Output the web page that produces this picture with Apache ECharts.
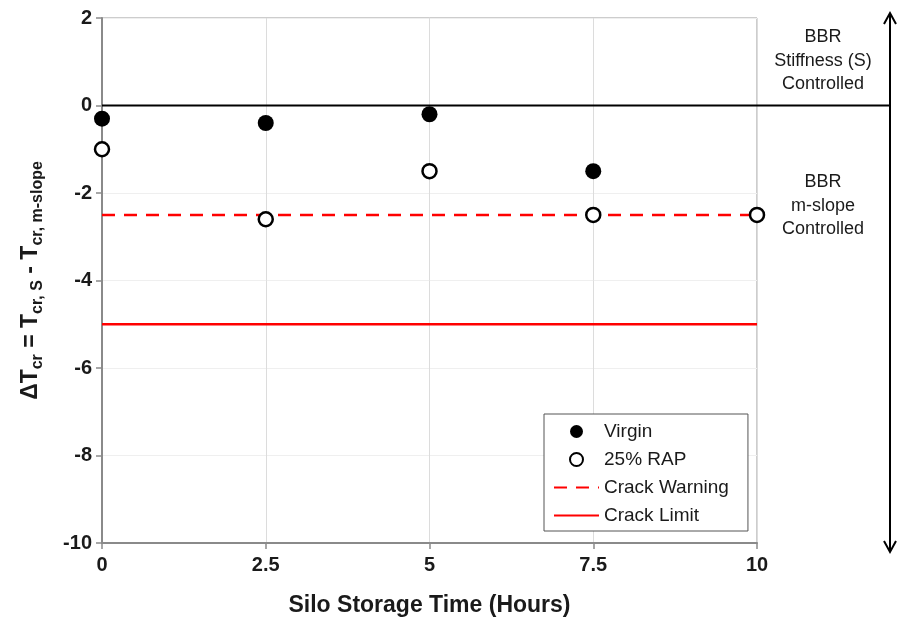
<!DOCTYPE html>
<html>
<head>
<meta charset="utf-8">
<script src="https://cdn.jsdelivr.net/npm/echarts@6/dist/echarts.min.js"></script>
<style>
  html, body { margin: 0; padding: 0; background: #fff; }
  #chart { width: 900px; height: 618px; }
</style>
</head>
<body>
<div id="chart"></div>
<script>
// Silo storage time (hours) and the ΔTcr results for each binder
const hours = [0, 2.5, 5, 7.5, 10];
const virgin = [-0.3, -0.4, -0.2, -1.5, null];
const rap25 = [-1.0, -2.6, -1.5, -2.5, -2.5];
const crackWarning = -2.5;
const crackLimit = -5;
const divideLine = 0;
const xTicks = { min: 0, max: 10, step: 2.5 };
const yTicks = { min: -10, max: 2, step: 2 };

const FONT = '"Liberation Sans", Arial, sans-serif';

const pairs = (ys) => hours.map((h, i) => [h, ys[i]]).filter(p => p[1] !== null);
const flat = (v) => [[xTicks.min, v], [xTicks.max, v]];

const chart = echarts.init(document.getElementById('chart'), null, { renderer: 'canvas' });

chart.setOption({
  animation: false,
  backgroundColor: '#ffffff',
  grid: {
    left: 102, top: 18, right: 143, bottom: 75,
    containLabel: false, outerBoundsMode: 'none',
    show: true, borderColor: '#9a9a9a', borderWidth: 1, backgroundColor: 'transparent'
  },
  xAxis: {
    type: 'value',
    min: xTicks.min, max: xTicks.max, interval: xTicks.step,
    name: 'Silo Storage Time (Hours)',
    nameLocation: 'middle',
    nameGap: 51,
    nameTextStyle: { fontFamily: FONT, fontWeight: 'bold', fontSize: 23, color: '#1a1a1a' },
    axisLine: { show: true, onZero: false, lineStyle: { color: '#8a8a8a', width: 2 } },
    axisTick: { show: true, inside: false, length: 6, lineStyle: { color: '#8a8a8a', width: 1.5 } },
    axisLabel: { fontFamily: FONT, fontWeight: 'bold', fontSize: 20, color: '#1a1a1a', margin: 12 },
    splitLine: { show: true, lineStyle: { color: '#dcdcdc', width: 1 } }
  },
  yAxis: {
    type: 'value',
    min: yTicks.min, max: yTicks.max, interval: yTicks.step,
    name: '{a|ΔT}{s|cr}{a| = T}{s|cr, S}{a| - T}{s|cr, m-slope}',
    nameLocation: 'middle',
    nameGap: 60,
    nameRotate: 90,
    nameTextStyle: {
      color: '#1a1a1a',
      rich: {
        a: { fontFamily: FONT, fontWeight: 'bold', fontSize: 23, lineHeight: 27, color: '#1a1a1a', verticalAlign: 'bottom' },
        s: { fontFamily: FONT, fontWeight: 'bold', fontSize: 16, lineHeight: 16, color: '#1a1a1a', verticalAlign: 'bottom', padding: [0, 0, -4, 0] }
      }
    },
    axisLine: { show: true, onZero: false, lineStyle: { color: '#8a8a8a', width: 2 } },
    axisTick: { show: true, inside: false, length: 6, lineStyle: { color: '#8a8a8a', width: 1.5 } },
    axisLabel: { fontFamily: FONT, fontWeight: 'bold', fontSize: 20, color: '#1a1a1a', margin: 10 },
    splitLine: { show: true, lineStyle: { color: '#efefef', width: 1 } }
  },
  legend: {
    left: 544, top: 414,
    orient: 'vertical',
    padding: [8, 19, 6, 9],
    itemWidth: 45, itemHeight: 13, itemGap: 9,
    borderColor: '#555', borderWidth: 1, backgroundColor: '#fff',
    textStyle: { fontFamily: FONT, fontSize: 19, color: '#1a1a1a' },
    data: [
      { name: 'Virgin', itemStyle: { color: '#000', opacity: 1 } },
      { name: '25% RAP' },
      { name: 'Crack Warning', itemStyle: { opacity: 0 } },
      { name: 'Crack Limit', itemStyle: { opacity: 0 } }
    ]
  },
  series: [
    {
      name: 'divide', type: 'line', data: flat(divideLine), symbol: 'none', silent: true,
      lineStyle: { color: '#000', width: 2 }, z: 3
    },
    {
      name: 'Crack Warning', type: 'line', data: flat(crackWarning), symbol: 'none',
      lineStyle: { color: '#ff0000', width: 2.5, type: [13, 9] }, itemStyle: { color: '#ff0000' }, z: 3
    },
    {
      name: 'Crack Limit', type: 'line', data: flat(crackLimit), symbol: 'none',
      lineStyle: { color: '#ff0000', width: 2.5 }, itemStyle: { color: '#ff0000' }, z: 3
    },
    {
      name: 'Virgin', type: 'scatter', data: pairs(virgin), symbol: 'circle', symbolSize: 16,
      itemStyle: { color: '#000', borderColor: '#000', borderWidth: 0, opacity: 1 }, z: 5
    },
    {
      name: '25% RAP', type: 'scatter', data: pairs(rap25), symbol: 'circle', symbolSize: 14,
      itemStyle: { color: '#fff', borderColor: '#000', borderWidth: 2.5, opacity: 1 }, z: 5
    }
  ]
});

// Decorations outside the plot: the zero divide extends to a double-headed arrow,
// with the controlling-property notes beside it.
const yZero = chart.convertToPixel({ yAxisIndex: 0 }, divideLine);
const xRight = chart.convertToPixel({ xAxisIndex: 0 }, xTicks.max);
const yTop = chart.convertToPixel({ yAxisIndex: 0 }, yTicks.max) - 5;
const yBottom = chart.convertToPixel({ yAxisIndex: 0 }, yTicks.min) + 9;
const arrowX = 890;
const noteX = 823;
const noteStyle = { fontFamily: FONT, fontSize: 18, fill: '#1a1a1a', align: 'center', verticalAlign: 'middle', lineHeight: 23.5 };

chart.setOption({
  graphic: [
    { type: 'line', shape: { x1: xRight, y1: yZero, x2: arrowX, y2: yZero }, style: { stroke: '#000', lineWidth: 2 } },
    { type: 'line', shape: { x1: arrowX, y1: yTop, x2: arrowX, y2: yBottom }, style: { stroke: '#000', lineWidth: 2 } },
    { type: 'polyline', shape: { points: [[arrowX - 6, yTop + 11], [arrowX, yTop], [arrowX + 6, yTop + 11]] }, style: { stroke: '#000', lineWidth: 2, fill: 'none' } },
    { type: 'polyline', shape: { points: [[arrowX - 6, yBottom - 11], [arrowX, yBottom], [arrowX + 6, yBottom - 11]] }, style: { stroke: '#000', lineWidth: 2, fill: 'none' } },
    { type: 'text', x: noteX, y: 61, style: Object.assign({ text: 'BBR\nStiffness (S)\nControlled' }, noteStyle) },
    { type: 'text', x: noteX, y: 206, style: Object.assign({ text: 'BBR\nm-slope\nControlled' }, noteStyle) }
  ]
});
</script>
</body>
</html>
